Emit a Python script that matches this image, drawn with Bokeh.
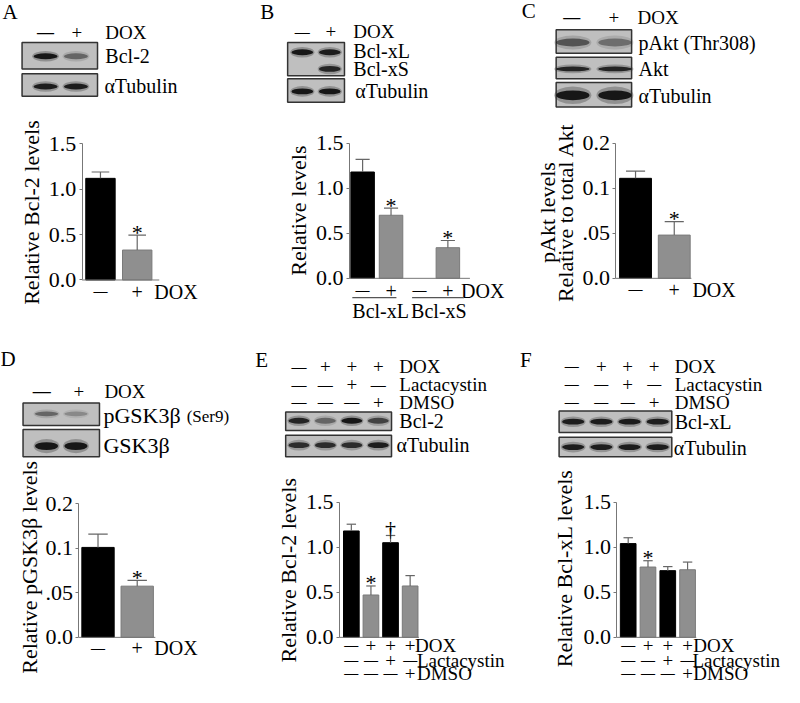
import math
from bokeh.plotting import figure
from bokeh.models import Range1d, LinearAxis, FixedTicker, ColumnDataSource
from bokeh.core.properties import value
from bokeh.embed import file_html
from bokeh.resources import INLINE

FONT = "Liberation Serif"
BLACK = "#000000"
GRAY = "#8f8f8f"
DASH = "—"

# ---------------- data ----------------
A_conditions = ["—", "+"]
A_values = [1.12, 0.33]
A_errors = [0.07, 0.165]
A_marks = ["", "*"]

B_conditions = ["—", "+", "—", "+"]
B_groups = ["Bcl-xL", "Bcl-xS"]
B_values = [1.18, 0.70, 0.0, 0.34]
B_errors = [0.14, 0.08, 0.0, 0.08]
B_marks = ["", "*", "", "*"]

C_conditions = ["—", "+"]
C_values = [0.111, 0.048]
C_errors = [0.008, 0.015]
C_marks = ["", "*"]

D_conditions = ["—", "+"]
D_values = [0.101, 0.0575]
D_errors = [0.015, 0.0065]
D_marks = ["", "*"]

E_dox = ["—", "+", "+", "+"]
E_lactacystin = ["—", "—", "+", "—"]
E_dmso = ["—", "—", "—", "+"]
E_values = [1.18, 0.47, 1.05, 0.57]
E_errors = [0.075, 0.10, 0.08, 0.115]
E_marks = ["", "*", "†", ""]

F_dox = ["—", "+", "+", "+"]
F_lactacystin = ["—", "—", "+", "—"]
F_dmso = ["—", "—", "—", "+"]
F_values = [1.04, 0.78, 0.74, 0.75]
F_errors = [0.065, 0.07, 0.045, 0.085]
F_marks = ["", "*", "", ""]

ticks_big = [0, 0.5, 1.0, 1.5]
tick_labels_big = ["0.0", "0.5", "1.0", "1.5"]
ticks_small = [0, 0.05, 0.10, 0.15]
tick_labels_small = ["0.0", ".05", "0.1", "0.2"]

# ---------------- canvas ----------------
W, H = 800, 703
p = figure(width=784, height=687, x_range=Range1d(0, W), y_range=Range1d(H, 0),
           x_axis_type=None, y_axis_type=None, toolbar_location=None,
           output_backend="svg", min_border=0, outline_line_color=None,
           background_fill_color="white", border_fill_color="white")

extra_x = {}
extra_y = {}


def txt(xs, ys, ss, size, align="left", baseline="middle", angle=0.0,
        xr="default", yr="default", style="normal", yoff=0):
    src = ColumnDataSource(dict(x=list(xs), y=list(ys), text=list(ss)))
    p.text(x="x", y="y", text="text", source=src, text_font=value(FONT),
           text_font_size=value(f"{size}px"), text_align=align,
           text_baseline=baseline, angle=angle, text_color="black",
           x_range_name=xr, y_range_name=yr, text_font_style=style,
           y_offset=yoff)


def mark_row(xs, y, marks, plus_size, dash_size, xr="default"):
    for x, m in zip(xs, marks):
        if m == DASH:
            txt([x], [y], [m], dash_size, align="center", xr=xr, style="bold")
        else:
            txt([x], [y], [m], plus_size, align="center", xr=xr)


# ---------------- panel letters ----------------
for letter, x, y in [("A", 2, 12), ("B", 265, 12), ("C", 532, 11),
                     ("D", 0, 367), ("E", 260, 368), ("F", 530, 368)]:
    txt([x], [y], [letter], 21)

# ---------------- blots (illustration) ----------------
BLOTS = [
    ([46, 77], (22, 99), [(43, 70, [(57, [0.95, 0.45], 6)]),
                          (75, 98, [(88, [0.9, 0.9], 6)])]),
    ([308, 336], (293, 351), [(43, 77, [(53, [0.95, 0.9], 6), (70, [0.0, 0.85], 6)]),
                              (80, 104, [(93, [0.95, 0.95], 6)])]),
    ([584, 627], (567, 644), [(30, 54, [(43, [0.55, 0.4], 8)]),
                              (58, 80, [(70, [0.85, 0.85], 5)]),
                              (84, 109, [(97, [0.95, 0.95], 10)])]),
    ([47, 77], (23, 101), [(412, 435, [(423, [0.45, 0.25], 5)]),
                           (439, 467, [(456, [0.95, 0.95], 8)])]),
    ([304.5, 331.5, 358.5, 385.5], (291, 399),
     [(421, 440, [(430, [0.85, 0.45, 0.95, 0.65], 6)]),
      (445, 467, [(455, [0.8, 0.8, 0.8, 0.9], 6)])]),
    ([584.4, 613.1, 641.9, 670.6], (570, 685),
     [(420, 442, [(431, [0.9, 0.9, 0.9, 0.9], 6)]),
      (447, 467, [(457, [0.9, 0.9, 0.9, 0.9], 6)])]),
]
for lanes, (bl, br), boxes in BLOTS:
    lw = (lanes[1] - lanes[0]) * 0.88
    for top, bot, bands in boxes:
        p.quad(left=[bl], right=[br], top=[top], bottom=[bot],
               fill_color="#bfbfbf", line_color="#333333", line_width=1.5)
        for by, inten, th in bands:
            for lx, a in zip(lanes, inten):
                if a <= 0:
                    continue
                p.ellipse(x=[lx], y=[by], width=[lw], height=[th * 1.8],
                          fill_color="#333333", fill_alpha=a * 0.35, line_color=None)
                p.ellipse(x=[lx], y=[by], width=[lw * 0.9], height=[th],
                          fill_color="#111111", fill_alpha=a, line_color=None)

# blot headers
mark_row([46, 78], 33, A_conditions, 19, 17); txt([107], [33], ["DOX"], 19)
mark_row([308, 337], 32, A_conditions, 19, 15); txt([360], [32], ["DOX"], 19)
mark_row([583, 626], 17, A_conditions, 19, 17); txt([650], [17], ["DOX"], 19)
mark_row([42, 80], 400, A_conditions, 19, 18); txt([106], [400], ["DOX"], 19)
E_lanes = [304.5, 331.5, 358.5, 385.5]
F_lanes = [583, 613, 640, 667]
for yy, row, lab in [(375, E_dox, "DOX"), (393, E_lactacystin, "Lactacystin"), (411, E_dmso, "DMSO")]:
    mark_row(E_lanes, yy, row, 19, 15)
    txt([407], [yy], [lab], 19)
for yy, row, lab in [(375, F_dox, "DOX"), (393, F_lactacystin, "Lactacystin"), (411, F_dmso, "DMSO")]:
    mark_row(F_lanes, yy, row, 19, 14)
    txt([688], [yy], [lab], 19)

# blot labels
for s, x, y, sz in [("Bcl-2", 107, 57, 20), ("αTubulin", 106, 87, 20),
                    ("Bcl-xL", 360, 52, 20), ("Bcl-xS", 360, 70, 20), ("αTubulin", 362, 93, 20),
                    ("pAkt (Thr308)", 651, 43, 20), ("Akt", 651, 70, 20), ("αTubulin", 651, 98, 20),
                    ("pGSK3β", 105, 425, 22), ("(Ser9)", 190, 426, 17), ("GSK3β", 105, 455, 22),
                    ("Bcl-2", 407, 430, 20), ("αTubulin", 404, 455, 20),
                    ("Bcl-xL", 688, 431, 20), ("αTubulin", 687, 458, 20)]:
    txt([x], [y], [s], sz)


# ---------------- bar charts ----------------
def bar_panel(key, values, errors, marks, ticks, tick_labels, axis_x, zero_y, top_y,
              c0, step, bw, end_x, rows, ylabels, row_size=20):
    xn, yn = "x" + key, "y" + key
    top = ticks[-1]
    s = (zero_y - top_y) / top
    extra_y[yn] = Range1d((zero_y - H) / s, zero_y / s)
    extra_x[xn] = Range1d((0 - c0) / step, (W - c0) / step)
    n = len(values)
    idx = list(range(n))
    colors = [BLACK if i % 2 == 0 else GRAY for i in idx]
    lines = [BLACK if i % 2 == 0 else "#7a7a7a" for i in idx]
    lalpha = [1.0 if v > 0 else 0.0 for v in values]
    src = ColumnDataSource(dict(x=idx, top=values, fill=colors, line=lines, la=lalpha))
    width = bw / step
    p.vbar(x="x", top="top", bottom=0, width=width, source=src, fill_color="fill",
           line_color="line", line_alpha="la", line_width=1,
           x_range_name=xn, y_range_name=yn)
    ex = [i for i in idx if errors[i] > 0]
    eb = [values[i] for i in ex]
    et = [values[i] + errors[i] for i in ex]
    cw = width * 0.3
    p.segment(x0=ex, y0=eb, x1=ex, y1=et, line_color="#666666", line_width=1.2,
              x_range_name=xn, y_range_name=yn)
    p.segment(x0=[i - cw for i in ex], y0=et, x1=[i + cw for i in ex], y1=et,
              line_color="#666666", line_width=1.2, x_range_name=xn, y_range_name=yn)
    # significance marks
    for i in idx:
        m = marks[i]
        if not m:
            continue
        yoff = -3 if m == "*" else -7
        txt([i], [values[i] + errors[i]], [m], 22, align="center", baseline="alphabetic",
            xr=xn, yr=yn, yoff=yoff)
    # axes
    loc = (axis_x - c0) / step
    ax = LinearAxis(x_range_name=xn, y_range_name=yn, fixed_location=loc,
                    bounds=(0, top), ticker=FixedTicker(ticks=ticks),
                    major_label_overrides=dict(zip(ticks, tick_labels)),
                    axis_line_color="#777777", major_tick_line_color="#777777",
                    major_tick_out=3, major_tick_in=0, minor_tick_out=0, minor_tick_in=0,
                    major_label_text_font=FONT, major_label_text_font_size="22px",
                    major_label_text_color="black", major_label_standoff=3)
    p.add_layout(ax, "left")
    p.segment(x0=[loc], y0=[0], x1=[(end_x - c0) / step], y1=[0], line_color="#777777",
              line_width=1, x_range_name=xn, y_range_name=yn)
    # condition rows under bars
    for ry, row, lab, lab_x in rows:
        mark_row(idx, ry, row, row_size, 14, xr=xn)
        txt([lab_x], [ry], [lab], row_size)
    for s_, x_, y_ in ylabels:
        txt([x_], [y_], [s_], 22, align="center", angle=math.pi / 2)


bar_panel("A", A_values, A_errors, A_marks, ticks_big, tick_labels_big,
          83.3, 286, 146.7, 102, 37.5, 30, 162,
          [(298, A_conditions, "DOX", 157)],
          [("Relative Bcl-2 levels", 32, 217)])
bar_panel("B", B_values, B_errors, B_marks, ticks_big, tick_labels_big,
          356, 284.3, 146, 369.5, 29, 24, 479,
          [(297, B_conditions, "DOX", 470)],
          [("Relative levels", 304, 215)])
bar_panel("C", C_values, C_errors, C_marks, ticks_small, tick_labels_small,
          628, 284.3, 146, 648, 39.5, 32.5, 705,
          [(296, C_conditions, "DOX", 706)],
          [("pAkt levels", 558, 217), ("Relative to total Akt", 577, 217)])
bar_panel("D", D_values, D_errors, D_marks, ticks_small, tick_labels_small,
          80, 651.7, 515, 99.5, 40, 33, 158,
          [(663, D_conditions, "DOX", 157)],
          [("Relative pGSK3β levels", 30, 580)])
bar_panel("E", E_values, E_errors, E_marks, ticks_big, tick_labels_big,
          346, 651.7, 513.3, 358, 20, 16, 427,
          [(660, E_dox, "DOX", 423), (675, E_lactacystin, "Lactacystin", 425),
           (689, E_dmso, "DMSO", 425)],
          [("Relative Bcl-2 levels", 294, 583)], row_size=19)
bar_panel("F", F_values, F_errors, F_marks, ticks_big, tick_labels_big,
          629, 651.7, 513.3, 640.5, 20.2, 16, 710,
          [(660, F_dox, "DOX", 707), (675, F_lactacystin, "Lactacystin", 706),
           (689, F_dmso, "DMSO", 707)],
          [("Relative Bcl-xL levels", 576, 581)], row_size=19)

# B group labels with underlines (decoration)
p.segment(x0=[359, 420], y0=[304, 304], x1=[404, 473], y1=[304, 304],
          line_color="#555555", line_width=1.2)
txt([359, 419], [318, 318], B_groups, 20)

p.extra_x_ranges = extra_x
p.extra_y_ranges = extra_y

open("out.html", "w").write(file_html(p, INLINE))
